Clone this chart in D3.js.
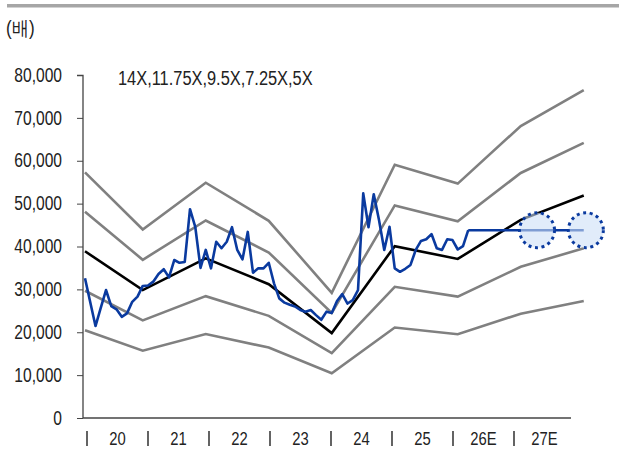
<!DOCTYPE html>
<html><head><meta charset="utf-8">
<script src="https://cdn.jsdelivr.net/npm/d3@7"></script>
<style>
body{margin:0;background:#fff;}
text{font-family:"Liberation Sans",Arial,sans-serif;fill:#222;}
</style></head>
<body><svg id="c" width="619" height="452"></svg>
<script>
// ---- data ----
const yearLabels = ["20","21","22","23","24","25","26E","27E"];
const yTicks = [0,10000,20000,30000,40000,50000,60000,70000,80000];
const bandLabel = "14X,11.75X,9.5X,7.25X,5X";
const unitLabel = "(배)";
// band vertices: months since Jan 2020 (Jan 2020, then Dec of each year)
const bandMonths = [0,11,23,35,47,59,71,83,95];
const band14x   = [57300,43960,54880,45990,29190,59080,54670,68100,76450];
const band1175x = [48100,36900,46060,38600,24500,49590,45880,57150,64170];
const band95x   = [38890,29830,37240,31210,19810,40090,37100,46210,51880];
const band725x  = [29680,22770,28420,23820,15120,30600,28310,35260,39590];
const band5x    = [20470,15700,19600,16430,10430,21100,19530,24320,27300];
// monthly share price, Jan 2020 .. Feb 2026
const price = [32600,27000,21450,25700,29850,26100,25350,23600,24400,27100,28300,30800,
  30900,31800,33600,34700,32800,36850,36200,36400,48700,44600,35000,39200,
  34900,41100,39600,41100,44500,39200,37000,43400,33900,34900,34900,36200,
  31400,27900,26900,26400,26000,25200,24800,25200,24000,22900,24800,24500,
  27300,28900,26700,27500,29800,52400,44500,52200,46200,39200,44600,34900,
  34100,34800,35700,39200,41300,41700,42900,39600,39200,41700,41500,39300,
  40100,43800];
const targetMonths = [73,95];
const targetValues = [43800,43800];
const circleMonths = [86.1,95.4];
const circleValues = [43800,43800];

// ---- chart ----
const SX = 0.8; // horizontal condensing of text
const svg = d3.select("#c");
const x = d3.scaleLinear().domain([0,95]).range([85,583.75]);
const y = d3.scaleLinear().domain([0,80000]).range([418,75]);
const xc = d3.scaleBand().domain(yearLabels).range([87,575]);

function narrow(sel, ax, ay, sx){
  const s = sx || SX;
  sel.attr("x", ax/s).attr("y", ay).attr("transform", `scale(${s},1)`);
  return sel;
}

svg.append("rect").attr("x",7).attr("y",4).attr("width",612).attr("height",3.5).attr("fill","#a6a6a6");
narrow(svg.append("text").attr("font-size",20).attr("font-weight",500).attr("font-family","'Noto Sans CJK KR',sans-serif").text(unitLabel),6,35,0.85);

// y axis
const yAxis = svg.append("g").attr("transform","translate(83,0)")
  .call(d3.axisLeft(y).tickValues(yTicks).tickSize(6).tickPadding(21).tickFormat(d3.format(",")));
yAxis.selectAll("text").attr("font-size",19.5).attr("fill","#222")
  .attr("x",-21/SX).attr("transform",`scale(${SX},1)`);
yAxis.selectAll("line").attr("stroke","#444");
yAxis.select(".domain").attr("stroke","#444").attr("stroke-width",1.3).attr("d","M-6,75.5H0V418");

// x axis line
svg.append("line").attr("x1",83).attr("x2",571).attr("y1",418).attr("y2",418).attr("stroke","#444").attr("stroke-width",1.3);
const xg = svg.append("g");
yearLabels.forEach(l=>{
  xg.append("line").attr("x1",xc(l)).attr("x2",xc(l)).attr("y1",431).attr("y2",446).attr("stroke","#222").attr("stroke-width",1.4);
  narrow(xg.append("text").attr("font-size",18.5).attr("text-anchor","middle").text(l), xc(l)+xc.bandwidth()/2, 445);
});

const line = d3.line().x(d=>x(d[0])).y(d=>y(d[1]));
const bands = [[band14x,"#808080"],[band1175x,"#808080"],[band725x,"#808080"],[band5x,"#808080"],[band95x,"#000"]];
bands.forEach(([vals,col])=>{
  svg.append("path").attr("d",line(bandMonths.map((m,i)=>[m,vals[i]])))
    .attr("fill","none").attr("stroke",col).attr("stroke-width",2.6);
});
svg.append("path").attr("d",line(price.map((v,i)=>[i,v])))
  .attr("fill","none").attr("stroke","#0a3a9f").attr("stroke-width",2.6).attr("stroke-linejoin","round");
svg.append("path").attr("d",line(targetMonths.map((m,i)=>[m,targetValues[i]])))
  .attr("fill","none").attr("stroke","#0a3a9f").attr("stroke-width",2.6);

circleMonths.forEach((m,i)=>{
  svg.append("circle").attr("cx",x(m)).attr("cy",y(circleValues[i])).attr("r",17.5)
    .attr("fill","rgba(205,224,247,0.6)").attr("stroke","#0a3a9f").attr("stroke-width",3)
    .attr("stroke-dasharray","3,3.6");
});

narrow(svg.append("text").attr("font-size",20.5).text(bandLabel),118,85);
</script></body></html>
